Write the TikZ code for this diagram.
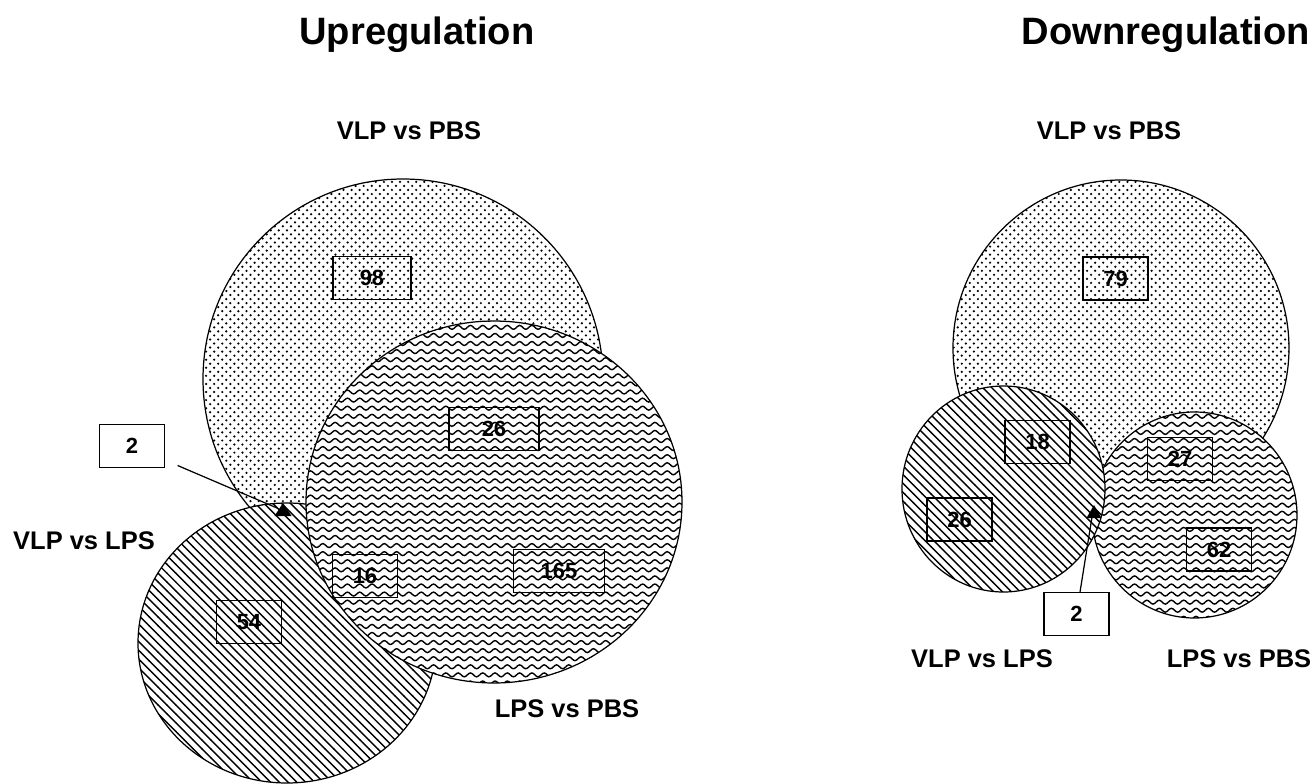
\documentclass[tikz,border=0pt]{standalone}
\usepackage{fontspec}
\setmainfont{Liberation Sans}
\usepackage{tikz}
\usetikzlibrary{patterns}

% fill patterns of the three sets
\pgfdeclarepatternformonly{setdots}{\pgfqpoint{-1pt}{-1pt}}{\pgfqpoint{5.6pt}{5.6pt}}{\pgfqpoint{4.6pt}{4.6pt}}{%
  \pgfpathcircle{\pgfqpoint{0pt}{0pt}}{.7pt}%
  \pgfpathcircle{\pgfqpoint{2.3pt}{2.3pt}}{.7pt}%
  \pgfusepath{fill}}
\pgfdeclarepatternformonly{sethatch}{\pgfqpoint{-1pt}{-1pt}}{\pgfqpoint{6pt}{6pt}}{\pgfqpoint{5pt}{5pt}}{%
  \pgfsetlinewidth{0.8pt}%
  \pgfpathmoveto{\pgfqpoint{-0.1pt}{5.1pt}}%
  \pgfpathlineto{\pgfqpoint{5.1pt}{-0.1pt}}%
  \pgfusepath{stroke}}
\pgfdeclarepatternformonly{setwaves}{\pgfqpoint{-1pt}{-1pt}}{\pgfqpoint{8pt}{5.6pt}}{\pgfqpoint{7pt}{4.6pt}}{%
  \pgfsetlinewidth{0.8pt}%
  \pgfpathmoveto{\pgfqpoint{0pt}{2.3pt}}%
  \pgfpathsine{\pgfqpoint{1.75pt}{1.1pt}}%
  \pgfpathcosine{\pgfqpoint{1.75pt}{-1.1pt}}%
  \pgfpathsine{\pgfqpoint{1.75pt}{-1.1pt}}%
  \pgfpathcosine{\pgfqpoint{1.75pt}{1.1pt}}%
  \pgfusepath{stroke}}

\tikzset{
  setdot/.style={draw,line width=0.7pt,preaction={fill=white},pattern=setdots},
  sethat/.style={draw,line width=0.7pt,preaction={fill=white},pattern=sethatch},
  setwav/.style={draw,line width=0.7pt,preaction={fill=white},pattern=setwaves},
  numbox/.style={draw,line width=0.8pt,minimum width=1.3cm,minimum height=0.86cm,inner sep=0pt,
    font=\bfseries\fontsize{12.5}{14}\selectfont},
  setlabel/.style={anchor=base,inner sep=0pt,font=\bfseries\fontsize{14.5}{16}\selectfont},
  paneltitle/.style={anchor=base,inner sep=0pt,font=\bfseries\fontsize{21.7}{24}\selectfont}
}

\begin{document}
\begin{tikzpicture}[x=0.02cm,y=-0.02cm]
\useasboundingbox (0,0) rectangle (1313,784);

% Upregulation
\node[paneltitle] (uptitle) at (417,45) {Upregulation};
\draw[setdot] (403,379) circle [radius=200];
\draw[sethat] (287,643) ellipse [x radius=149, y radius=140];
\draw[setwav] (494,502) ellipse [x radius=188, y radius=181];
\node[setlabel] (upvp) at (409,140) {VLP vs PBS};
\node[setlabel] (upvl) at (84,549) {VLP vs LPS};
\node[setlabel] (uplp) at (567,717) {LPS vs PBS};
\node[numbox,minimum width=1.56cm] (up98) at (372,278) {98};
\node[numbox,minimum width=1.8cm] (up26) at (494,429) {26};
\node[numbox] (up16) at (365,576) {16};
\node[numbox,minimum width=1.82cm] (up165) at (559,571) {165};
\node[numbox] (up54) at (249,622) {54};
\node[numbox] (up2) at (132,446) {2};
\coordinate (uptri) at (277,508);
\fill (283,503) -- (291.5,516) -- (274.5,516) -- cycle;
\draw[line width=0.7pt,shorten <=0.27cm] (up2) -- (uptri);

% Downregulation
\node[paneltitle] (dntitle) at (1166,45) {Downregulation};
\draw[setdot] (1121,348) circle [radius=168];
\draw[setwav] (1194.5,515) ellipse [x radius=102.5, y radius=103];
\draw[sethat] (1003.5,489) ellipse [x radius=101.5, y radius=103];
\node[setlabel] (dnvp) at (1109,140) {VLP vs PBS};
\node[setlabel] (dnvl) at (982,667) {VLP vs LPS};
\node[setlabel] (dnlp) at (1239,667) {LPS vs PBS};
\node[numbox] (dn79) at (1115.5,278.5) {79};
\node[numbox] (dn18) at (1037.5,442) {18};
\node[numbox] (dn26) at (959.5,519.5) {26};
\node[numbox] (dn27) at (1180,459) {27};
\node[numbox] (dn62) at (1219,549.5) {62};
\node[numbox] (dn2) at (1076.5,614) {2};
\coordinate (dntri) at (1092,517);
\fill (1094,505) -- (1101.5,518) -- (1086.5,518) -- cycle;
\draw[line width=0.7pt] (dn2) -- (dntri);
\end{tikzpicture}
\end{document}
